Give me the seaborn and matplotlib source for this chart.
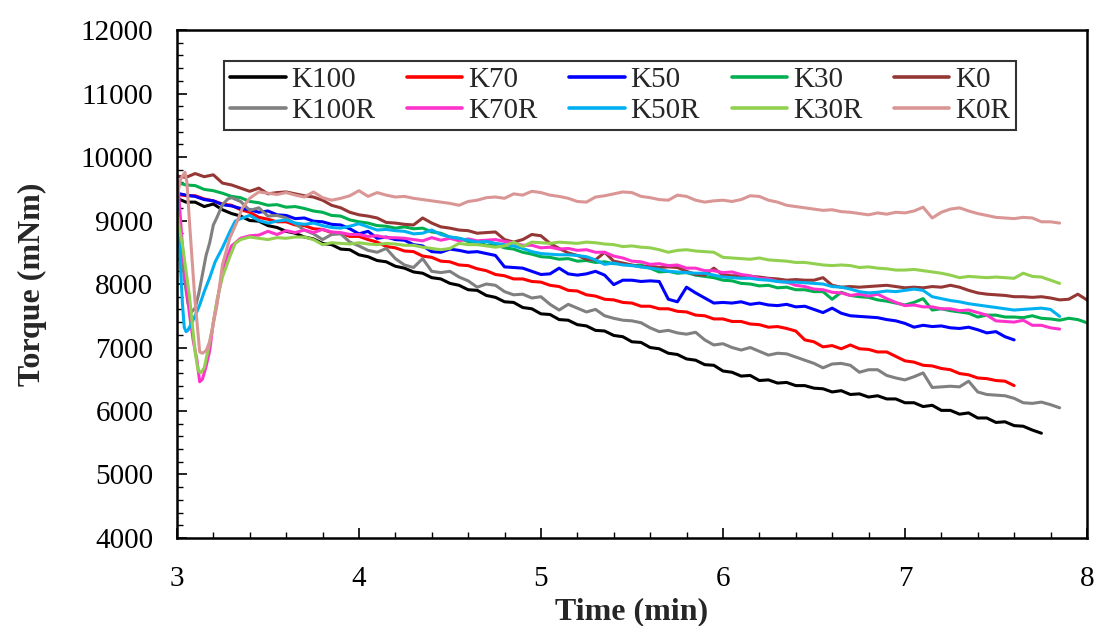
import numpy as np
import pandas as pd
import matplotlib
matplotlib.use("Agg")
import matplotlib.pyplot as plt
import seaborn as sns
from matplotlib.ticker import MultipleLocator

# ---------------- data ----------------
names = ["K100", "K70", "K50", "K30", "K0", "K100R", "K70R", "K50R", "K30R", "K0R"]
colors = ["#000000", "#FF0000", "#0000FF", "#00B050", "#953735",
          "#808080", "#FF33CC", "#00B0F0", "#92D050", "#D99694"]

step = 0.05  # sampling interval (min) of the regular part of each curve

k100_v = [9350, 9290, 9290, 9220, 9260, 9170, 9110, 9070, 9000, 8990,
          8920, 8890, 8830, 8800, 8740, 8710, 8640, 8620, 8550, 8540,
          8460, 8430, 8370, 8350, 8280, 8250, 8190, 8170, 8100, 8080,
          8010, 7980, 7910, 7900, 7820, 7790, 7720, 7710, 7630, 7610,
          7530, 7520, 7440, 7430, 7360, 7340, 7270, 7260, 7190, 7170,
          7090, 7080, 7000, 6980, 6910, 6890, 6820, 6800, 6730, 6720,
          6630, 6610, 6550, 6560, 6480, 6490, 6440, 6450, 6400, 6400,
          6360, 6350, 6300, 6320, 6260, 6270, 6220, 6240, 6190, 6190,
          6130, 6130, 6070, 6090, 6010, 6010, 5950, 5970, 5890, 5890,
          5820, 5830, 5770, 5760, 5700, 5650]

k70_v = [9420, 9390, 9390, 9340, 9310, 9260, 9240, 9170, 9130, 9050,
         9020, 8980, 8980, 8930, 8920, 8870, 8860, 8810, 8800, 8750,
         8750, 8700, 8660, 8590, 8570, 8520, 8510, 8440, 8420, 8360,
         8350, 8300, 8290, 8240, 8210, 8150, 8130, 8080, 8080, 8040,
         8030, 7980, 7960, 7900, 7890, 7830, 7810, 7760, 7750, 7710,
         7700, 7650, 7650, 7610, 7610, 7570, 7560, 7510, 7500, 7450,
         7450, 7410, 7410, 7370, 7360, 7320, 7330, 7300, 7260, 7120,
         7090, 7010, 7030, 6980, 7040, 6980, 6970, 6930, 6930, 6860,
         6790, 6770, 6720, 6710, 6670, 6650, 6590, 6570, 6520, 6510,
         6480, 6470, 6400]

k50_v = [9430, 9400, 9380, 9330, 9310, 9250, 9230, 9190, 9170, 9130,
         9150, 9090, 9080, 9030, 9040, 8990, 8980, 8940, 8930, 8870,
         8790, 8830, 8720, 8740, 8700, 8690, 8620, 8600, 8510, 8500,
         8550, 8530, 8500, 8510, 8480, 8450, 8270, 8260, 8250, 8200,
         8150, 8160, 8250, 8160, 8140, 8160, 8200, 8140, 7990, 8060,
         8060, 8040, 8050, 8040, 7760, 7720, 7950, 7860, 7780, 7700,
         7710, 7700, 7720, 7680, 7700, 7670, 7660, 7680, 7640, 7650,
         7600, 7550, 7620, 7540, 7500, 7490, 7480, 7470, 7440, 7420,
         7380, 7320, 7350, 7330, 7340, 7310, 7300, 7320, 7280, 7230,
         7250, 7170, 7120]

k30_v = [9600, 9560, 9550, 9490, 9470, 9430, 9380, 9360, 9300, 9280,
         9240, 9250, 9210, 9220, 9190, 9150, 9130, 9080, 9070, 9010,
         8980, 8960, 8920, 8910, 8880, 8900, 8870, 8880, 8820, 8800,
         8740, 8720, 8670, 8660, 8610, 8620, 8570, 8550, 8500, 8470,
         8430, 8420, 8390, 8400, 8360, 8370, 8340, 8350, 8320, 8320,
         8290, 8300, 8250, 8190, 8200, 8170, 8180, 8140, 8120, 8100,
         8060, 8050, 8010, 8000, 7970, 7980, 7940, 7950, 7910, 7910,
         7880, 7880, 7760, 7870, 7820, 7800, 7790, 7750, 7730, 7700,
         7670, 7710, 7770, 7590, 7610, 7580, 7560, 7540, 7480, 7510,
         7510, 7480, 7480, 7470, 7500, 7460, 7450, 7430, 7460, 7440,
         7390]

k0_v = [9700, 9680, 9740, 9690, 9720, 9590, 9560, 9510, 9460, 9510,
        9420, 9440, 9450, 9420, 9390, 9370, 9320, 9240, 9200, 9130,
        9090, 9070, 9040, 8970, 8960, 8940, 8930, 9040, 8960, 8900,
        8880, 8850, 8840, 8800, 8810, 8820, 8700, 8660, 8700, 8780,
        8760, 8640, 8560, 8490, 8450, 8390, 8380, 8500, 8360, 8330,
        8300, 8270, 8280, 8260, 8270, 8260, 8200, 8150, 8140, 8250,
        8140, 8130, 8130, 8120, 8110, 8090, 8080, 8060, 8070, 8060,
        8060, 8100, 7980, 7950, 7960, 7950, 7960, 7970, 7980, 7960,
        7940, 7950, 7940, 7960, 7950, 7980, 7950, 7900, 7860, 7840,
        7830, 7820, 7800, 7800, 7790, 7800, 7780, 7750, 7760, 7840,
        7750]

# recycled samples: an explicit dip at the start, then regular sampling
k100r_t0 = [3.00, 3.02, 3.04, 3.06, 3.08, 3.10, 3.12, 3.14, 3.16, 3.18, 3.20, 3.22, 3.25, 3.28, 3.30]
k100r_v0 = [9250, 8700, 8100, 7700, 7560, 7620, 7850, 8150, 8450, 8650, 8930, 9050, 9250, 9340, 9360]
k100r_v = [9300, 9160, 9200, 9070, 9080, 9040, 8950, 8850, 8790, 8700,
           8780, 8790, 8660, 8600, 8530, 8500, 8560, 8400, 8300, 8260,
           8400, 8200, 8180, 8200, 8110, 8050, 7950, 8000, 7980, 7880,
           7830, 7840, 7780, 7800, 7680, 7590, 7680, 7620, 7560, 7600,
           7500, 7460, 7430, 7420, 7390, 7310, 7250, 7270, 7230, 7210,
           7240, 7120, 7040, 7060, 7000, 6960, 7000, 6940, 6880, 6910,
           6900, 6850, 6800, 6750, 6680, 6740, 6750, 6720, 6610, 6650,
           6650, 6560, 6520, 6490, 6540, 6600, 6370, 6380, 6390, 6380,
           6470, 6300, 6260, 6250, 6240, 6200, 6130, 6120, 6140, 6100,
           6050]

k70r_t0 = [3.00, 3.01, 3.03, 3.05, 3.07, 3.09, 3.11, 3.125, 3.14, 3.16, 3.18, 3.20, 3.23, 3.25, 3.27, 3.30]
k70r_v0 = [9640, 9400, 8600, 8000, 7500, 7100, 6800, 6460, 6500, 6700, 6950, 7400, 7870, 8150, 8380, 8600]
k70r_v = [8720, 8760, 8770, 8830, 8780, 8840, 8810, 8850, 8810, 8860,
          8820, 8810, 8780, 8780, 8750, 8760, 8730, 8730, 8720, 8700,
          8680, 8730, 8690, 8720, 8680, 8710, 8680, 8690, 8700, 8670,
          8650, 8610, 8610, 8570, 8580, 8550, 8560, 8530, 8540, 8500,
          8500, 8440, 8410, 8360, 8350, 8310, 8320, 8290, 8300, 8250,
          8250, 8210, 8210, 8180, 8190, 8150, 8130, 8090, 8080, 8040,
          8030, 7980, 7960, 7920, 7910, 7870, 7860, 7820, 7840, 7810,
          7840, 7770, 7710, 7660, 7670, 7640, 7640, 7610, 7610, 7580,
          7590, 7550, 7510, 7420, 7410, 7400, 7430, 7350, 7350, 7310,
          7290]

k50r_t0 = [3.00, 3.01, 3.02, 3.03, 3.04, 3.05, 3.06, 3.08, 3.10, 3.125, 3.15, 3.18, 3.21, 3.25, 3.29, 3.32]
k50r_v0 = [9350, 8850, 8250, 7700, 7320, 7250, 7270, 7380, 7500, 7670, 7880, 8100, 8350, 8570, 8820, 8990]
k50r_v = [9030, 9080, 9000, 8960, 8990, 9010, 8960, 8940, 8960, 8920,
          8890, 8880, 8910, 8950, 8900, 8850, 8860, 8840, 8830, 8790,
          8800, 8850, 8780, 8740, 8720, 8690, 8660, 8670, 8640, 8620,
          8600, 8560, 8510, 8480, 8470, 8460, 8460, 8450, 8430, 8380,
          8310, 8330, 8300, 8290, 8270, 8250, 8230, 8200, 8190, 8180,
          8170, 8170, 8140, 8110, 8100, 8090, 8090, 8070, 8060, 8040,
          8030, 8030, 8020, 8010, 8000, 7960, 7950, 7920, 7880, 7860,
          7870, 7890, 7880, 7900, 7920, 7900, 7800, 7770, 7740, 7720,
          7690, 7670, 7650, 7630, 7610, 7590, 7600, 7610, 7620, 7600,
          7490]

k30r_t0 = [3.00, 3.015, 3.033, 3.05, 3.07, 3.085, 3.10, 3.115, 3.13, 3.15, 3.17, 3.196, 3.22, 3.25, 3.29, 3.32]
k30r_v0 = [9150, 8850, 8570, 8200, 7780, 7350, 6930, 6650, 6600, 6680, 6950, 7320, 7750, 8110, 8425, 8640]
k30r_v = [8700, 8740, 8720, 8700, 8730, 8720, 8740, 8740, 8700, 8620,
          8650, 8640, 8630, 8650, 8630, 8620, 8640, 8630, 8610, 8610,
          8580, 8560, 8540, 8560, 8640, 8620, 8620, 8600, 8580, 8600,
          8660, 8590, 8660, 8650, 8640, 8660, 8650, 8640, 8660, 8650,
          8630, 8620, 8590, 8600, 8580, 8570, 8540, 8500, 8530, 8540,
          8520, 8510, 8500, 8420, 8410, 8400, 8390, 8410, 8380, 8370,
          8360, 8340, 8340, 8320, 8300, 8290, 8300, 8290, 8260, 8270,
          8250, 8240, 8220, 8220, 8230, 8210, 8190, 8170, 8140, 8100,
          8120, 8110, 8100, 8110, 8100, 8090, 8170, 8120, 8110, 8060,
          8010]

k0r_t0 = [3.00, 3.02, 3.044, 3.055, 3.07, 3.098, 3.125, 3.14, 3.16, 3.18, 3.22, 3.25, 3.29, 3.33, 3.36, 3.40, 3.45]
k0r_v0 = [9350, 9650, 9760, 9600, 8930, 7780, 6930, 6910, 6950, 7090, 7670, 8300, 8720, 8980, 9200, 9350, 9450]
k0r_v = [9430, 9410, 9440, 9400, 9370, 9450, 9360, 9320, 9350, 9390,
         9470, 9380, 9440, 9400, 9370, 9380, 9350, 9330, 9310, 9290,
         9270, 9240, 9300, 9320, 9360, 9370, 9350, 9420, 9400, 9460,
         9440, 9400, 9380, 9350, 9300, 9290, 9370, 9390, 9420, 9450,
         9440, 9380, 9360, 9330, 9320, 9400, 9380, 9320, 9290, 9310,
         9320, 9300, 9330, 9390, 9380, 9320, 9290, 9240, 9220, 9200,
         9180, 9160, 9170, 9140, 9130, 9110, 9090, 9120, 9100, 9130,
         9120, 9150, 9210, 9040, 9130, 9180, 9200, 9150, 9110, 9080,
         9050, 9040, 9030, 9050, 9040, 8980, 8980, 8960]

# (name, explicit early times, early values, start of regular part, regular values)
parts = [
    ("K100", [], [], 3.00, k100_v),
    ("K70", [], [], 3.00, k70_v),
    ("K50", [], [], 3.00, k50_v),
    ("K30", [], [], 3.00, k30_v),
    ("K0", [], [], 3.00, k0_v),
    ("K100R", k100r_t0, k100r_v0, 3.35, k100r_v),
    ("K70R", k70r_t0, k70r_v0, 3.35, k70r_v),
    ("K50R", k50r_t0, k50r_v0, 3.35, k50r_v),
    ("K30R", k30r_t0, k30r_v0, 3.35, k30r_v),
    ("K0R", k0r_t0, k0r_v0, 3.50, k0r_v),
]

frames = []
for name, t0, v0, start, vals in parts:
    t = list(t0) + [round(start + step * i, 3) for i in range(len(vals))]
    v = list(v0) + list(vals)
    frames.append(pd.DataFrame({"Time": t, "Torque": v, "Sample": name}))
df = pd.concat(frames, ignore_index=True)

# ---------------- style ----------------
sns.set_style("ticks")
plt.rcParams["font.family"] = ["Liberation Serif", "DejaVu Serif"]

fig = plt.figure(figsize=(10.99, 6.26), dpi=100)
ax = fig.add_axes([0.161, 0.1406, 0.828, 0.8114])

sns.lineplot(data=df, x="Time", y="Torque", hue="Sample", hue_order=names,
             palette=colors, estimator=None, sort=False, linewidth=2.2, ax=ax)

ax.set_xlim(3, 8)
ax.set_ylim(4000, 12000)
ax.xaxis.set_major_locator(MultipleLocator(1))
ax.xaxis.set_minor_locator(MultipleLocator(0.2))
ax.yaxis.set_major_locator(MultipleLocator(1000))
ax.yaxis.set_minor_locator(MultipleLocator(200))
ax.tick_params(which="both", direction="in", top=False, right=False,
               colors="black", labelsize=21)
ax.tick_params(which="major", length=7, width=1.2)
ax.tick_params(which="minor", length=4, width=1.0)
ax.tick_params(axis="x", pad=20)
ax.tick_params(axis="y", pad=17)
for s in ax.spines.values():
    s.set_visible(True)
    s.set_color("black")
    s.set_linewidth(1.8)

ax.set_xlabel("Time (min)", fontsize=23, fontweight="bold", labelpad=4)
ax.set_ylabel("Torque (mNm)", fontsize=23, fontweight="bold", labelpad=24)

handles, labels = ax.get_legend_handles_labels()
order = [0, 5, 1, 6, 2, 7, 3, 8, 4, 9]
leg = ax.legend([handles[i] for i in order], [labels[i] for i in order],
                ncol=5, loc="lower left", bbox_to_anchor=(0.052, 0.803, 0.87, 0.144),
                mode="expand", frameon=True, fancybox=False, edgecolor="black",
                fontsize=21, handlelength=1.9, handletextpad=0.2, borderaxespad=0,
                borderpad=0.2, labelspacing=0.15, columnspacing=1.0)
leg.get_frame().set_linewidth(1.5)
for line in leg.get_lines():
    line.set_linewidth(2.6)

fig.savefig("out.png", dpi=100)
